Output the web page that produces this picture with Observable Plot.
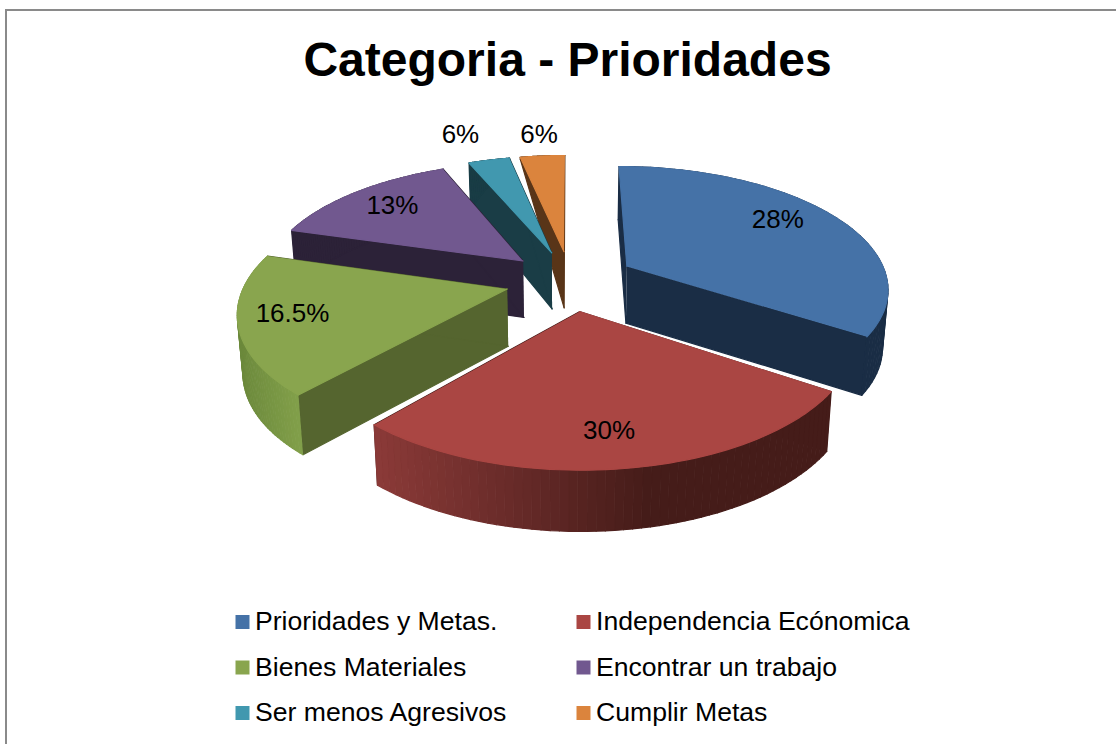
<!DOCTYPE html>
<html><head><meta charset="utf-8">
<script src="https://cdn.jsdelivr.net/npm/d3@7"></script>
<script src="https://cdn.jsdelivr.net/npm/@observablehq/plot@0.6"></script>
<style>html,body{margin:0;padding:0;background:#fff}svg{display:block}</style>
</head><body><div id="chart"></div>
<script>
const chartTitle = "Categoria - Prioridades";
const categories = ["Prioridades y Metas.","Independencia Ecónomica","Bienes Materiales","Encontrar un trabajo","Ser menos Agresivos","Cumplir Metas"];
const valueLabels = ["28%","30%","16.5%","13%","6%","6%"];
// slice shares (the printed labels differ from them)
const drawnShares = [34.3, 27.2, 18, 14.15, 3.05, 3.3];
const topColors  = ["#4572a7","#aa4643","#89a54e","#71588f","#4198af","#db843d"];
const wallColors = ["#1a2d45","#451c19","#55652f","#2c2238","#1a3d46","#593518"];
const rimLight   = ["#1a2d45","#8b3a38","#6c893c","#2c2238","#1a3d46","#593518"];

const W = 1116, H = 744;
const cx = 570, cy = 280, R = 261, K = 120.7, p = 0.165, explode = 0.25, depth = 57;
const project = (u, v) => { const s = 1 / (1 - p * v); return [cx + u * R * s, cy + v * K * s]; };
const drop = (pt, v) => {
  const t = Math.max(0, Math.min(1, (v + 1.23) / 0.08));
  return [cx + (pt[0] - cx) * (1 - 0.017 * t), pt[1] + depth * (1 + 0.06 * v) * t];
};

let acc = 0;
const slices = drawnShares.map((d, i) => {
  const a0 = acc / 100 * 2 * Math.PI; acc += d;
  const a1 = acc / 100 * 2 * Math.PI, m = (a0 + a1) / 2;
  return {i, a0, a1, m, ex: explode * Math.sin(m), ey: -explode * Math.cos(m)};
});
const planeAt = (s, a, r) => [s.ex + r * Math.sin(a), s.ey - r * Math.cos(a)];

const polys = [];
const addPoly = (id, fill, pts) => pts.forEach(q => polys.push({id, fill, x: q[0], y: q[1]}));
[5, 4, 3, 0, 2, 1].forEach(i => {
  const s = slices[i];
  const apexV = s.ey, apex = project(s.ex, s.ey);
  const steps = d3.range(0, 61).map(k => s.a0 + (s.a1 - s.a0) * k / 60);
  const rim = steps.map(a => { const c = planeAt(s, a, 1); return {top: project(c[0], c[1]), v: c[1]}; });
  [rim[0], rim[60]].forEach((e, k) => addPoly(`w${i}-${k}`, wallColors[i],
    [apex, e.top, drop(e.top, e.v), drop(apex, apexV)]));
  const xs = rim.map(r => r.top[0]), x0 = d3.min(xs), span = d3.max(xs) - x0;
  const shade = d3.interpolateRgb(rimLight[i], i === 2 ? "#82a04a" : wallColors[i]);
  for (let k = 0; k < 60; k++) {
    const a = rim[k], b = rim[k + 1];
    const t = Math.min(1, ((a.top[0] + b.top[0]) / 2 - x0) / (span * (i === 1 ? 0.6 : 1)));
    addPoly(`r${i}-${k}`, shade(t), [a.top, b.top, drop(b.top, b.v), drop(a.top, a.v)]);
  }
  addPoly(`t${i}`, topColors[i], [apex, ...rim.map(r => r.top)]);
});

const labelNudge = [[-4,-8],[-2,9],[-18,-2],[-4,-3],[-13,-2],[2,3]];
const pctData = slices.map(s => {
  const r = drawnShares[s.i] > 10 ? 0.74 : 1.3;
  const c = planeAt(s, s.m, r), q = project(c[0], c[1]);
  return {x: q[0] + labelNudge[s.i][0], y: q[1] + labelNudge[s.i][1], label: valueLabels[s.i]};
});
const legendCols = [242, 583], legendRows = [621.5, 667, 712.5];
const legendData = categories.map((name, i) => ({
  name, color: topColors[i], x: legendCols[i % 2], y: legendRows[Math.floor(i / 2)]
}));

const font = "Liberation Sans, Arial, sans-serif";
const chart = Plot.plot({
  width: W, height: H, margin: 0,
  style: {background: "#fff", fontFamily: font},
  x: {domain: [0, W], range: [0, W], axis: null},
  y: {domain: [0, H], range: [0, H], axis: null},
  color: {type: "identity"},
  marks: [
    Plot.ruleY([9.5], {x1: 5, x2: W, stroke: "#8a8a8a", strokeWidth: 2}),
    Plot.ruleX([5.5], {y1: 9, y2: H, stroke: "#8a8a8a", strokeWidth: 2}),
    Plot.line(polys, {x: "x", y: "y", z: "id", fill: "fill", stroke: "fill", strokeWidth: 1.2}),
    Plot.text(pctData, {x: "x", y: "y", text: "label", fontSize: 26, fill: "#000", fontFamily: font}),
    Plot.text([chartTitle], {x: () => 567, y: () => 60, text: d => d, fontSize: 48, fontWeight: "bold", fill: "#000", fontFamily: font}),
    Plot.dot(legendData, {x: "x", y: "y", fill: "color", symbol: "square", r: 7.9, stroke: null}),
    Plot.text(legendData, {x: d => d.x + 12.5, y: d => d.y - 0.5, text: "name", textAnchor: "start", fontSize: 26.6, fill: "#000", fontFamily: font})
  ]
});
document.getElementById("chart").append(chart);
</script></body></html>
